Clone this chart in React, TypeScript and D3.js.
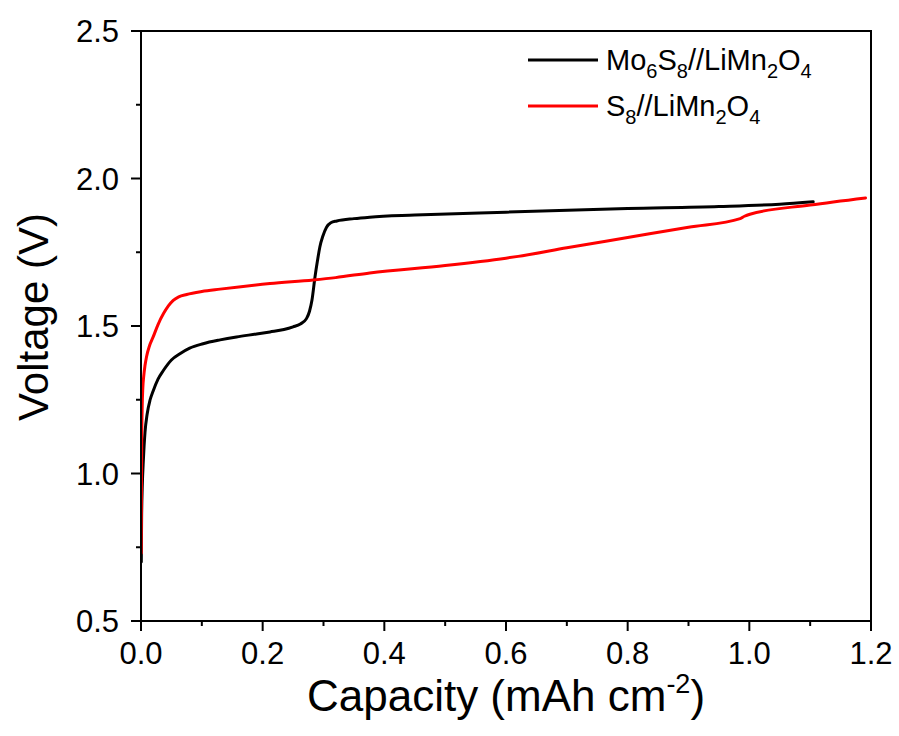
import React from "react";
import * as d3 from "d3";

// Capacity (mAh cm^-2) and voltage (V) for the Mo6S8//LiMn2O4 cell
const mo6s8Capacity = [
  0.0005, 0.001, 0.002, 0.004, 0.0066, 0.01, 0.015, 0.02, 0.028, 0.037, 0.05, 0.064,
  0.08, 0.102, 0.13, 0.157, 0.19, 0.212, 0.235, 0.25, 0.262, 0.272, 0.277, 0.281,
  0.286, 0.29, 0.294, 0.299, 0.305, 0.312, 0.322, 0.35, 0.376, 0.45, 0.6, 0.8, 0.95,
  1.05, 1.105,
];
const mo6s8Voltage = [
  0.7, 0.85, 0.95, 1.05, 1.14, 1.2, 1.25, 1.28, 1.32, 1.35, 1.385, 1.406,
  1.425, 1.44, 1.453, 1.463, 1.473, 1.48, 1.488, 1.497, 1.507, 1.525, 1.55, 1.587,
  1.666, 1.72, 1.768, 1.805, 1.835, 1.85, 1.856, 1.864, 1.869, 1.876, 1.886, 1.898, 1.905,
  1.913, 1.921,
];

// Capacity and voltage for the S8//LiMn2O4 cell
const s8Capacity = [
  0.0003, 0.0008, 0.0012, 0.002, 0.003, 0.0045, 0.0065, 0.009, 0.014, 0.02, 0.028, 0.037,
  0.045, 0.053, 0.062, 0.075, 0.1, 0.13, 0.212, 0.283, 0.32, 0.376, 0.5, 0.6, 0.62, 0.7,
  0.8, 0.9, 0.985, 0.992, 1.001, 1.1, 1.191,
];
const s8Voltage = [
  0.73, 0.95, 1.11, 1.23, 1.29, 1.33, 1.365, 1.395, 1.433, 1.463, 1.505, 1.542,
  1.568, 1.587, 1.599, 1.607, 1.617, 1.625, 1.644, 1.656, 1.664, 1.68, 1.705, 1.73, 1.736, 1.765,
  1.8, 1.835, 1.864, 1.872, 1.879, 1.91, 1.934,
];

const xMajorTicks = [0, 0.2, 0.4, 0.6, 0.8, 1.0, 1.2];
const xMinorTicks = [0.1, 0.3, 0.5, 0.7, 0.9, 1.1];
const yMajorTicks = [0.5, 1.0, 1.5, 2.0, 2.5];
const yMinorTicks = [0.75, 1.25, 1.75, 2.25];

const FONT = "'Liberation Sans', Arial, Helvetica, sans-serif";

export default function App() {
  const width = 899;
  const height = 736;
  const left = 141;
  const right = 871;
  const top = 31;
  const bottom = 621;

  const x = d3.scaleLinear().domain([0, 1.2]).range([left, right]);
  const y = d3.scaleLinear().domain([0.5, 2.5]).range([bottom, top]);

  const line = d3
    .line<[number, number]>()
    .x((d) => x(d[0]))
    .y((d) => y(d[1]))
    .curve(d3.curveMonotoneX);

  const moPts = mo6s8Capacity.map((c, i) => [c, mo6s8Voltage[i]] as [number, number]);
  const sPts = s8Capacity.map((c, i) => [c, s8Voltage[i]] as [number, number]);

  const majorLen = 10;
  const minorLen = 5;

  return (
    <div style={{ position: "absolute", left: 0, top: 0 }}>
      <svg width={width} height={height} style={{ display: "block", background: "#fff" }}>
        <defs>
          <clipPath id="plot">
            <rect x={left} y={top} width={right - left} height={bottom - top} />
          </clipPath>
        </defs>

        {/* curves */}
        <g clipPath="url(#plot)" fill="none" strokeLinejoin="round" strokeLinecap="round">
          <path d={line(moPts) ?? ""} stroke="#000" strokeWidth={3} />
          <path d={line(sPts) ?? ""} stroke="#ff0000" strokeWidth={3} />
        </g>

        {/* frame */}
        <rect
          x={left}
          y={top}
          width={right - left}
          height={bottom - top}
          fill="none"
          stroke="#000"
          strokeWidth={2}
        />

        {/* ticks */}
        <g stroke="#000" strokeWidth={2}>
          {xMajorTicks.map((t) => (
            <line key={`xm${t}`} x1={x(t)} x2={x(t)} y1={bottom} y2={bottom + majorLen} />
          ))}
          {xMinorTicks.map((t) => (
            <line key={`xn${t}`} x1={x(t)} x2={x(t)} y1={bottom} y2={bottom + minorLen} />
          ))}
          {yMajorTicks.map((t) => (
            <line key={`ym${t}`} x1={left - majorLen} x2={left} y1={y(t)} y2={y(t)} />
          ))}
          {yMinorTicks.map((t) => (
            <line key={`yn${t}`} x1={left - minorLen} x2={left} y1={y(t)} y2={y(t)} />
          ))}
        </g>

        {/* tick labels */}
        <g fontFamily={FONT} fontSize={31} fill="#000">
          {xMajorTicks.map((t) => (
            <text key={`xl${t}`} x={x(t)} y={664} textAnchor="middle">
              {t.toFixed(1)}
            </text>
          ))}
          {yMajorTicks.map((t) => (
            <text key={`yl${t}`} x={119} y={y(t)} dy="0.36em" textAnchor="end">
              {t.toFixed(1)}
            </text>
          ))}
        </g>

        {/* axis titles */}
        <text
          x={(left + right) / 2}
          y={711}
          textAnchor="middle"
          fontFamily={FONT}
          fontSize={44}
          fill="#000"
        >
          Capacity (mAh cm
          <tspan fontSize={27} dy={-18}>
            -2
          </tspan>
          <tspan dy={18}>)</tspan>
        </text>
        <text
          transform={`translate(48, ${(top + bottom) / 2 - 9}) rotate(-90)`}
          textAnchor="middle"
          fontFamily={FONT}
          fontSize={42}
          fill="#000"
        >
          Voltage (V)
        </text>

        {/* legend */}
        <g fontFamily={FONT} fill="#000">
          <line x1={528} x2={598} y1={60} y2={60} stroke="#000" strokeWidth={3} />
          <text x={606} y={70} fontSize={29}>
            Mo<tspan fontSize={20} dy={8}>6</tspan>
            <tspan dy={-8}>S</tspan>
            <tspan fontSize={20} dy={8}>8</tspan>
            <tspan dy={-8}>//LiMn</tspan>
            <tspan fontSize={20} dy={8}>2</tspan>
            <tspan dy={-8}>O</tspan>
            <tspan fontSize={20} dy={8}>4</tspan>
          </text>
          <line x1={528} x2={598} y1={106} y2={106} stroke="#ff0000" strokeWidth={3} />
          <text x={606} y={116} fontSize={29}>
            S<tspan fontSize={20} dy={8}>8</tspan>
            <tspan dy={-8}>//LiMn</tspan>
            <tspan fontSize={20} dy={8}>2</tspan>
            <tspan dy={-8}>O</tspan>
            <tspan fontSize={20} dy={8}>4</tspan>
          </text>
        </g>
      </svg>
    </div>
  );
}
